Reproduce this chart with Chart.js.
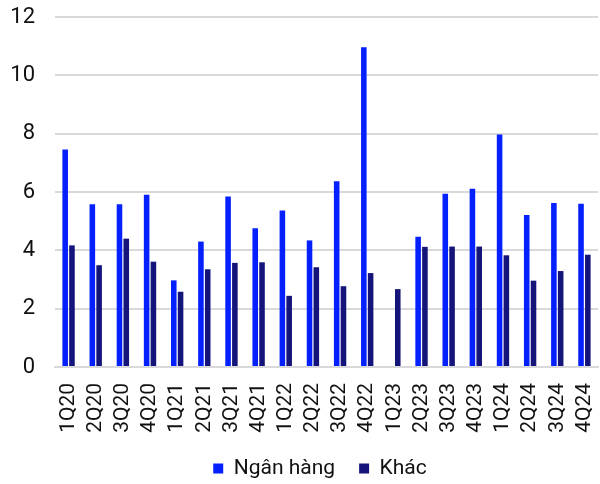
<!DOCTYPE html>
<html>
<head>
<meta charset="utf-8">
<script src="https://cdn.jsdelivr.net/npm/chart.js@4"></script>
<style>
html,body{margin:0;padding:0;background:#fff;}
#wrap{width:600px;height:484px;}
</style>
</head>
<body>
<div id="wrap"><canvas id="c" width="600" height="484"></canvas></div>
<script>
const categories = ["1Q20","2Q20","3Q20","4Q20","1Q21","2Q21","3Q21","4Q21","1Q22","2Q22","3Q22","4Q22","1Q23","2Q23","3Q23","4Q23","1Q24","2Q24","3Q24","4Q24"];
const nganHang = [7.46,5.58,5.58,5.91,2.97,4.30,5.85,4.76,5.37,4.34,6.37,10.96,null,4.47,5.94,6.11,7.97,5.21,5.62,5.60];
const khac = [4.17,3.49,4.40,3.61,2.58,3.35,3.57,3.59,2.44,3.42,2.77,3.22,2.67,4.12,4.13,4.13,3.83,2.96,3.29,3.85];
const yTicks = [0,2,4,6,8,10,12];
const seriesNames = ["Ngân hàng","Khác"];

const FONT = "Roboto, 'Liberation Sans', Arial, sans-serif";
const legendShift = {
  id: 'legendShift',
  afterLayout(chart) { const l = chart.legend; if (l) { l.left += 21; l.right += 21; l.top += 1; l.bottom += 1; } }
};
new Chart(document.getElementById('c'), {
  type: 'bar',
  data: {
    labels: categories,
    datasets: [
      {label: seriesNames[0], data: nganHang, backgroundColor: '#0520FF', categoryPercentage: 0.5, barPercentage: 0.82},
      {label: seriesNames[1], data: khac, backgroundColor: '#14147A', categoryPercentage: 0.5, barPercentage: 0.82}
    ]
  },
  plugins: [legendShift],
  options: {
    responsive: false,
    animation: false,
    layout: {padding: {top: 17, right: 2, left: 0, bottom: -4}},
    scales: {
      x: {
        afterFit: (s) => { s.height = 66; s.paddingLeft = 0; s.paddingRight = 0; },
        grid: {display: false, drawTicks: false},
        border: {display: true, color: '#d9d9d9', width: 2},
        ticks: {minRotation: 90, maxRotation: 90, autoSkip: false, padding: 16, color: '#111', font: {family: FONT, size: 21}}
      },
      y: {
        min: 0, max: 12,
        afterBuildTicks: (s) => { s.ticks = yTicks.map(v => ({value: v})); },
        afterFit: (s) => { s.width = 55; s.paddingTop = 0; s.paddingBottom = 0; },
        grid: {color: '#d9d9d9', lineWidth: 2, drawTicks: false},
        border: {display: false},
        ticks: {padding: 20, color: '#111', font: {family: FONT, size: 22}}
      }
    },
    plugins: {
      legend: {
        position: 'bottom',
        labels: {boxWidth: 10, boxHeight: 10, padding: 24, color: '#111', font: {family: FONT, size: 21}}
      },
      tooltip: {enabled: false}
    }
  }
});
</script>
</body>
</html>
